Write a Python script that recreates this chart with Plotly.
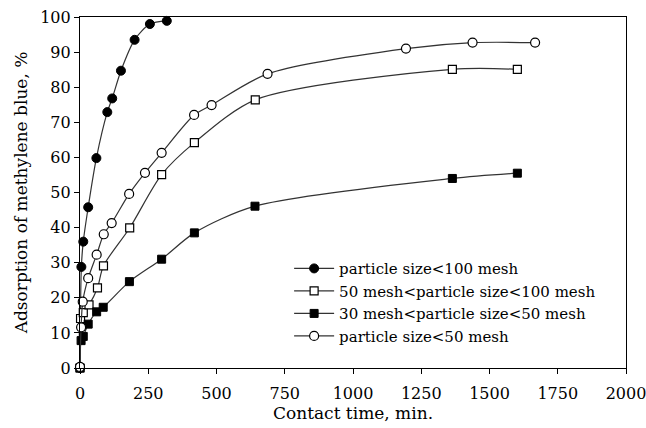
import plotly.graph_objects as go

# Data
t_a = [0, 5, 12, 30, 60, 100, 118, 150, 200, 256, 318]
v_a = [0, 28.8, 36.0, 45.8, 59.8, 72.9, 76.8, 84.7, 93.5, 98.0, 98.9]

t_b = [0, 2, 12, 33, 64, 86, 182, 299, 419, 642, 1364, 1602]
v_b = [0, 14.1, 15.8, 18.0, 22.8, 29.1, 39.9, 55.1, 64.2, 76.4, 85.1, 85.1]

t_c = [0, 4, 12, 30, 61, 85, 181, 299, 419, 641, 1364, 1602]
v_c = [0, 7.8, 9.0, 12.5, 16.0, 17.3, 24.6, 31.0, 38.5, 46.1, 54.0, 55.5]

t_d = [0, 4, 10, 30, 61, 87, 116, 180, 238, 299, 418, 482, 687, 1194, 1438, 1667]
v_d = [0.3, 11.6, 18.9, 25.6, 32.3, 38.1, 41.3, 49.6, 55.6, 61.3, 72.1, 74.9, 83.8, 91.0, 92.7, 92.7]

names = [
    "particle size<100 mesh",
    "50 mesh<particle size<100 mesh",
    "30 mesh<particle size<50 mesh",
    "particle size<50 mesh",
]

FONT = "DejaVu Serif, serif"
line_style = dict(color="#333333", width=1.2, shape="spline", smoothing=0.8)

fig = go.Figure()
fig.add_trace(go.Scatter(x=t_a, y=v_a, name=names[0], mode="lines+markers",
                         line=line_style,
                         marker=dict(symbol="circle", size=9, color="black",
                                     line=dict(color="black", width=1)),
                         cliponaxis=False))
fig.add_trace(go.Scatter(x=t_b, y=v_b, name=names[1], mode="lines+markers",
                         line=line_style,
                         marker=dict(symbol="square", size=8, color="white",
                                     line=dict(color="black", width=1.2)),
                         cliponaxis=False))
fig.add_trace(go.Scatter(x=t_c, y=v_c, name=names[2], mode="lines+markers",
                         line=line_style,
                         marker=dict(symbol="square", size=8, color="black",
                                     line=dict(color="black", width=1)),
                         cliponaxis=False))
fig.add_trace(go.Scatter(x=t_d, y=v_d, name=names[3], mode="lines+markers",
                         line=line_style,
                         marker=dict(symbol="circle", size=9, color="white",
                                     line=dict(color="black", width=1.2)),
                         cliponaxis=False))

axis_common = dict(
    showline=True, linecolor="black", linewidth=1.2, mirror=True,
    ticks="outside", ticklen=5, tickcolor="black", tickwidth=1,
    showgrid=False, zeroline=False,
    tickfont=dict(family=FONT, size=16, color="black"),
    ticklabeloverflow="allow",
)

fig.update_layout(
    width=646, height=428,
    margin=dict(l=80, r=20, t=17, b=60, autoexpand=False),
    paper_bgcolor="white", plot_bgcolor="white",
    font=dict(family=FONT, color="black"),
    xaxis=dict(range=[0, 2000], dtick=250, tick0=0, ticklabelstandoff=6,
               title=dict(text="Contact time, min.", font=dict(family=FONT, size=17), standoff=0),
               **axis_common),
    yaxis=dict(range=[0, 100], dtick=10, tick0=0,
               title=dict(text="Adsorption of methylene blue, %", font=dict(family=FONT, size=17), standoff=8),
               **axis_common),
    legend=dict(x=0.383, y=0.33, xanchor="left", yanchor="top",
                bgcolor="rgba(0,0,0,0)", borderwidth=0,
                font=dict(family=FONT, size=15, color="black"),
                tracegroupgap=0, itemwidth=40),
    showlegend=True,
)

fig.write_html("out.html")
